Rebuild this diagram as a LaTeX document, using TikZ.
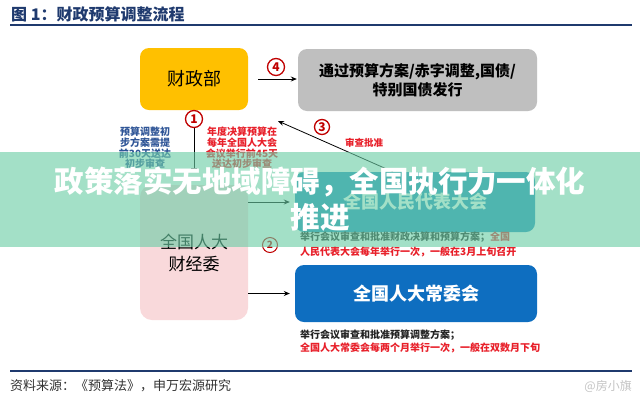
\documentclass[tikz,border=0pt]{standalone}
\usepackage{fontspec}
\setmainfont{Noto Sans CJK SC}
\usetikzlibrary{arrows.meta}
\definecolor{titleblue}{HTML}{1F3A6E}
\definecolor{finyellow}{HTML}{FFC000}
\definecolor{boxgray}{HTML}{BFBFBF}
\definecolor{npcblue}{HTML}{2090BE}
\definecolor{cwhblue}{HTML}{0E6EC0}
\definecolor{pinkbox}{HTML}{F9D9DB}
\definecolor{numred}{HTML}{C00000}
\definecolor{txtred}{HTML}{E8202A}
\definecolor{txtblue}{HTML}{2F5597}
\definecolor{txtdark}{HTML}{222222}
\definecolor{bandgreen}{HTML}{6CCDA6}
\definecolor{footgray}{HTML}{333333}
\definecolor{wmgray}{HTML}{C4C4C4}
\tikzset{
  fs/.style={font=\fontsize{#1}{#1}\selectfont},
  roundbox/.style={rounded corners=9pt, inner sep=0pt, align=center},
  arr/.style={-{Stealth[length=6pt,width=5pt]}, line width=0.8pt, black},
  numc/.style={circle, draw=numred, line width=1.3pt, inner sep=0pt, minimum size=17pt,
    text=numred, fill=white, font=\bfseries\fontsize{12}{12}\selectfont},
  smalltxt/.style={anchor=west, inner sep=0pt, font=\bfseries\fontsize{10}{10}\selectfont},
  sidetxt/.style={align=center, inner sep=0pt, font=\bfseries\fontsize{10}{10.6}\selectfont},
}
\begin{document}
\begin{tikzpicture}[x=1pt,y=-1pt]
\useasboundingbox (0,0) rectangle (640,400);
\fill[white] (0,0) rectangle (640,400);

% title
\node[anchor=west, inner sep=0pt, text=titleblue, font=\bfseries\fontsize{16}{16}\selectfont] (title) at (11,14) {图 1：财政预算调整流程};
\draw[titleblue, line width=1.8pt] (10,25) -- (632,25);

% boxes
\node[roundbox, fill=finyellow, minimum width=108pt, minimum height=62pt, fs=18] (mof) at (194,79) {财政部};
\node[roundbox, fill=boxgray, minimum width=239pt, minimum height=62pt, font=\bfseries\fontsize{15}{19}\selectfont] (gray) at (417.5,80) {通过预算方案/赤字调整,国债/\\特别国债发行};
\node[roundbox, fill=npcblue, text=white, minimum width=240pt, minimum height=60pt, font=\bfseries\fontsize{18}{18}\selectfont] (npc) at (415,202) {全国人民代表大会};
\node[roundbox, fill=cwhblue, text=white, minimum width=242pt, minimum height=57pt, font=\bfseries\fontsize{18}{18}\selectfont] (cwh) at (416,293.5) {全国人大常委会};
\node[roundbox, fill=pinkbox, rounded corners=12pt, minimum width=108pt, minimum height=135pt, font=\fontsize{17}{22}\selectfont] (pink) at (194,252.5) {全国人大\\财经委};

% connectors
\draw[arr, shorten <=10pt, shorten >=1pt] (mof.east) -- (mof.east -| gray.west);
\coordinate (c1end) at (194,168);
\draw[line width=0.8pt, black] (mof.south) -- (c1end);
\draw[line width=0.8pt, black] ([xshift=-3pt]c1end) -- ([xshift=3pt]c1end);
\coordinate (c3end) at (278,121);
\draw[arr] ([xshift=-22pt]npc.north) -- (c3end);
\draw[arr, shorten >=5pt] (pink.east |- npc.west) -- (npc.west);
\draw[arr, shorten >=5pt] (pink.east |- cwh.west) -- (cwh.west);

% numbered circles
\node[numc] (n1) at (194,119) {1};
\node[numc, minimum size=15pt, line width=1pt, font=\bfseries\fontsize{10}{10}\selectfont] (n2) at (270,245) {2};
\node[numc, minimum size=15pt] (n3) at (322,127) {3};
\node[numc] (n4) at (276,67) {4};

% side texts
\node[sidetxt, text=txtblue] (lefttxt) at (145,148) {预算调整初\\步方案需提\\前30天送达\\初步审查};
\node[sidetxt, text=txtred] (righttxt) at (242,148) {年度决算预算在\\每年全国人大会\\会议举行前45天\\送达初步审查};
\node[inner sep=0pt, text=txtred, font=\bfseries\fontsize{9.5}{9.5}\selectfont] (approve) at (364,143) {审查批准};

\node[smalltxt, text=txtdark] (npc1) at (300,237) {举行会议审查和批准财政决算和预算方案；\textcolor{txtred}{全国}};
\node[smalltxt, text=txtred] (npc2) at (300,252) {人民代表大会每年举行一次，一般在3月上旬召开};
\node[smalltxt, text=txtdark] (cwh1) at (300,335) {举行会议审查和批准预算调整方案；};
\node[smalltxt, text=txtred] (cwh2) at (300,348) {全国人大常委会每两个月举行一次，一般在双数月下旬};

% footer
\draw[titleblue, line width=1.2pt] (10,371) -- (632,371);
\node[anchor=west, inner sep=0pt, text=footgray, font=\fontsize{13}{13}\selectfont] (source) at (10,386) {资料来源：《预算法》，申万宏源研究};
\node[anchor=east, inner sep=0pt, text=wmgray, font=\fontsize{12}{12}\selectfont] (wm) at (632,386) {@房小旗};

% overlay band
\fill[bandgreen, opacity=0.62] (0,152) rectangle (640,247);
\node[inner sep=0pt, text=white, font=\bfseries\fontsize{29.5}{29.5}\selectfont] (band1) at (320,182) {政策落实无地域障碍，全国执行力一体化};
\node[inner sep=0pt, text=white, font=\bfseries\fontsize{29.5}{29.5}\selectfont] (band2) at (320,217) {推进};
\end{tikzpicture}
\end{document}
